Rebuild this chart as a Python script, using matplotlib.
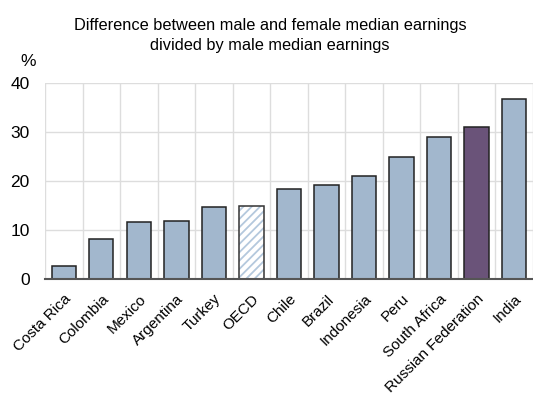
import numpy as np
import matplotlib
matplotlib.use('Agg')
import matplotlib.pyplot as plt

plt.rcParams['font.family'] = ['Liberation Sans', 'DejaVu Sans']
plt.rcParams['hatch.linewidth'] = 1.3

# Dane
kraje = ['Costa Rica', 'Colombia', 'Mexico', 'Argentina', 'Turkey', 'OECD', 'Chile',
         'Brazil', 'Indonesia', 'Peru', 'South Africa', 'Russian Federation', 'India']
wartosci = [2.7, 8.2, 11.8, 12.0, 14.7, 14.9, 18.4, 19.3, 21.1, 25.0, 29.1, 31.1, 36.9]

kolor_bazowy = '#a2b7cd'
kolor_rosja = '#6a5379'

fig = plt.figure(figsize=(5.33, 4.03), dpi=100)
ax = fig.add_axes([0.0844, 0.307, 0.9156, 0.486])

x = np.arange(len(kraje))
for i, (k, v) in enumerate(zip(kraje, wartosci)):
    if k == 'OECD':
        ax.bar(i, v, width=0.65, color='white', edgecolor='#b4c8dd', hatch='////',
               linewidth=0, zorder=3)
        ax.bar(i, v, width=0.65, color='none', edgecolor='#333333', linewidth=1.1, zorder=4)
    else:
        c = kolor_rosja if k == 'Russian Federation' else kolor_bazowy
        ax.bar(i, v, width=0.65, color=c, edgecolor='#222222', linewidth=1.1, zorder=3)

ax.set_xlim(-0.5, 12.28)
ax.set_ylim(0, 40)
ax.set_yticks([0, 10, 20, 30, 40])
ax.set_xticks(x)
ax.set_xticks(np.arange(-0.5, 13, 1), minor=True)
ax.set_xticklabels(kraje, rotation=45, ha='right', rotation_mode='anchor')
ax.tick_params(axis='both', which='both', length=0)
ax.tick_params(axis='x', labelsize=11, pad=9)
ax.tick_params(axis='y', labelsize=12.5, pad=11)
ax.grid(True, axis='y', color='#dddddd', linewidth=1, zorder=0)
ax.grid(True, axis='x', which='minor', color='#dddddd', linewidth=1, zorder=0)
for s in ['top', 'right', 'left']:
    ax.spines[s].set_visible(False)
ax.spines['bottom'].set_color('#555555')
ax.spines['bottom'].set_linewidth(1.5)
ax.spines['bottom'].set_zorder(5)

fig.text(0.507, 0.912, 'Difference between male and female median earnings\ndivided by male median earnings',
         ha='center', va='center', fontsize=11.8, linespacing=1.4)
fig.text(0.052, 0.847, '%', ha='center', va='center', fontsize=12.5)

fig.savefig('out.png', dpi=100)
